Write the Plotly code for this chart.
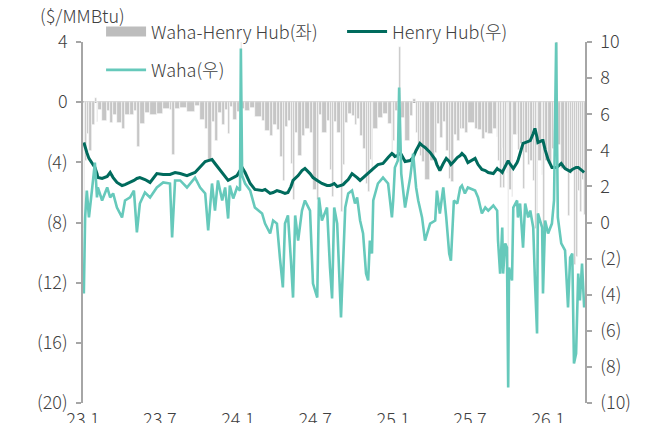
import numpy as np
import pandas as pd
import plotly.graph_objects as go

# 일자별 가격 ($/MMBtu), 차트에서 읽은 값
dates = [
    "2023-01-03", "2023-01-06", "2023-01-10", "2023-01-15", "2023-01-22", "2023-01-29",
    "2023-02-03", "2023-02-05", "2023-02-15", "2023-02-27", "2023-03-06", "2023-03-13",
    "2023-03-22", "2023-04-03", "2023-04-10", "2023-04-22", "2023-05-01", "2023-05-08",
    "2023-05-15", "2023-05-27", "2023-06-08", "2023-06-24", "2023-07-09", "2023-07-25",
    "2023-07-30", "2023-08-06", "2023-08-18", "2023-09-03", "2023-09-22", "2023-10-04",
    "2023-10-16", "2023-10-23", "2023-11-01", "2023-11-08", "2023-11-15", "2023-11-25",
    "2023-12-02", "2023-12-09", "2023-12-13", "2023-12-21", "2023-12-30", "2024-01-06",
    "2024-01-08", "2024-01-11", "2024-01-18", "2024-01-30", "2024-02-10", "2024-02-27",
    "2024-03-05", "2024-03-17", "2024-03-24", "2024-04-02", "2024-04-09", "2024-04-16",
    "2024-04-21", "2024-04-28", "2024-05-05", "2024-05-10", "2024-05-15", "2024-05-22",
    "2024-05-31", "2024-06-07", "2024-06-19", "2024-06-26", "2024-07-06", "2024-07-10",
    "2024-07-17", "2024-07-29", "2024-08-05", "2024-08-10", "2024-08-15", "2024-08-22",
    "2024-08-31", "2024-09-05", "2024-09-10", "2024-09-17", "2024-09-26", "2024-10-03",
    "2024-10-08", "2024-10-15", "2024-10-22", "2024-10-29", "2024-11-03", "2024-11-07",
    "2024-11-12", "2024-11-15", "2024-11-26", "2024-12-08", "2024-12-20", "2024-12-29",
    "2025-01-01", "2025-01-05", "2025-01-12", "2025-01-15", "2025-01-20", "2025-01-29",
    "2025-02-10", "2025-02-17", "2025-02-24", "2025-03-01", "2025-03-05", "2025-03-10",
    "2025-03-17", "2025-03-29", "2025-04-10", "2025-04-14", "2025-04-21", "2025-04-29",
    "2025-05-06", "2025-05-13", "2025-05-17", "2025-05-24", "2025-06-01", "2025-06-08",
    "2025-06-12", "2025-06-19", "2025-06-26", "2025-07-13", "2025-07-20", "2025-07-29",
    "2025-08-06", "2025-08-13", "2025-08-25", "2025-09-03", "2025-09-05", "2025-09-10",
    "2025-09-15", "2025-09-17", "2025-09-22", "2025-09-26", "2025-09-29", "2025-10-01",
    "2025-10-08", "2025-10-11", "2025-10-20", "2025-10-22", "2025-10-27", "2025-11-03",
    "2025-11-08", "2025-11-15", "2025-11-20", "2025-11-27", "2025-12-01", "2025-12-06",
    "2025-12-08", "2025-12-18", "2025-12-20", "2025-12-25", "2026-01-01", "2026-01-10",
    "2026-01-15", "2026-01-20", "2026-01-24", "2026-02-01", "2026-02-10", "2026-02-17",
    "2026-02-22", "2026-02-27", "2026-03-03", "2026-03-08", "2026-03-13", "2026-03-17",
    "2026-03-22", "2026-03-27",
]

henry_hub = [
    4.43, 4.16, 3.88, 3.55, 3.27, 3.05,
    2.71, 2.49, 2.44, 2.55, 2.77, 2.49,
    2.22, 2.05, 2.10, 2.22, 2.33, 2.44,
    2.49, 2.38, 2.22, 2.71, 2.66, 2.66,
    2.71, 2.77, 2.71, 2.60, 2.77, 3.10,
    3.38, 3.43, 3.49, 3.27, 3.05, 2.71,
    2.49, 2.33, 2.38, 2.49, 2.60, 2.88,
    2.99, 3.05, 2.77, 2.16, 1.83, 1.77,
    1.83, 1.61, 1.66, 1.77, 1.72, 1.66,
    1.61, 1.66, 1.99, 2.33, 2.44, 2.60,
    2.88, 2.99, 2.71, 2.49, 2.33, 2.27,
    2.16, 2.05, 2.05, 2.10, 2.16, 1.99,
    2.05, 2.10, 2.22, 2.38, 2.71, 2.60,
    2.49, 2.33, 2.49, 2.60, 2.77, 2.83,
    2.94, 2.99, 3.21, 3.27, 3.60, 3.82,
    3.77, 3.66, 3.71, 3.82, 3.77, 3.38,
    3.43, 3.60, 3.99, 4.21, 4.38, 4.27,
    4.16, 3.88, 3.49, 3.21, 2.88, 3.27,
    3.55, 3.38, 3.21, 3.38, 3.60, 3.71,
    3.82, 3.66, 3.32, 3.55, 3.21, 2.94,
    2.88, 2.77, 2.71, 2.99, 2.94, 2.88,
    2.77, 2.88, 3.10, 3.32, 3.43, 3.32,
    3.10, 2.99, 3.32, 3.43, 3.82, 4.38,
    4.43, 4.49, 4.54, 4.93, 5.21, 4.71,
    4.43, 4.54, 4.54, 4.04, 3.49, 3.05,
    3.05, 3.05, 3.10, 3.27, 2.99, 2.88,
    2.83, 2.94, 2.99, 3.05, 3.05, 2.99,
    2.88, 2.77,
]

waha = [
    -3.93, 0.28, 1.77, 0.28, 1.77, 3.32,
    1.39, 1.94, 1.22, 1.94, 1.39, 1.61,
    0.83, 0.28, 1.22, 1.39, 1.77, -0.55,
    1.05, 1.66, 1.39, 1.94, 2.22, 2.16,
    -0.83, 2.33, 2.33, 1.94, 2.49, 1.94,
    1.61, -0.44, 2.16, 0.66, 2.33, 1.22,
    1.94, 0.22, 2.05, 1.33, 1.94, 1.77,
    9.64, 2.60, 2.16, 1.77, 0.83, 0.50,
    -0.06, -0.61, 0.11, -0.06, -1.94, -3.60,
    -0.06, 0.39, -2.11, -4.16, 0.39, -1.00,
    0.66, 1.22, 0.66, -3.38, -4.16, 1.39,
    0.11, 0.83, -2.49, -4.21, 0.83, -0.06,
    -5.26, -2.11, 0.83, 1.61, 1.77, 1.05,
    1.39, 0.11, -0.61, -2.83, -3.21, -1.00,
    -1.72, 1.22, 2.16, 2.49, 2.16, 0.28,
    1.22, 3.05, 3.43, 7.48, 2.71, 0.83,
    2.49, 3.82, 1.94, 1.22, 0.78, 0.28,
    -1.00, -0.06, 0.11, 1.77, 0.50, 1.94,
    0.28, -1.72, -2.11, 1.22, 1.05, 1.94,
    2.05, 1.61, 1.94, 1.77, 1.39, 0.50,
    0.83, 0.66, 0.94, 0.66, -1.00, -2.83,
    -0.28, -2.83, -1.16, -1.39, -9.14, -2.49,
    -3.21, 0.83, 1.22, 0.28, 1.05, -1.39,
    1.05, 0.28, 0.66, -0.28, -3.20, -6.15,
    0.50, -0.28, -3.93, 0.11, -0.61, -0.06,
    1.22, 9.97, 0.28, -1.16, -1.55, -4.71,
    -1.94, -1.72, -7.81, -7.26, -2.83, -4.32,
    -2.27, -4.71,
]

# Waha-Henry Hub 스프레드
spread = np.round(np.array(waha) - np.array(henry_hub), 2)

x_tickvals = ["2023-01-01", "2023-07-01", "2024-01-01", "2024-07-01",
              "2025-01-01", "2025-07-01", "2026-01-01"]
x_ticktext = ["23.1", "23.7", "24.1", "24.7", "25.1", "25.7", "26.1"]

left_vals = [4, 0, -4, -8, -12, -16, -20]
left_text = ["4", "0", "(4)", "(8)", "(12)", "(16)", "(20)"]
right_vals = [10, 8, 6, 4, 2, 0, -2, -4, -6, -8, -10]
right_text = ["10", "8", "6", "4", "2", "0", "(2)", "(4)", "(6)", "(8)", "(10)"]

FONT = "Noto Sans CJK KR"
AXIS_GRAY = "#A6A6A6"
BAR_GRAY = "#C6C6C6"

# 막대 폭: 다음 관측일까지 (막대는 관측일에서 시작)
dt = pd.to_datetime(dates)
gaps = np.diff(dt.values).astype("timedelta64[ms]").astype(float)
widths = np.append(gaps, gaps[-1])

fig = go.Figure()

fig.add_trace(go.Bar(
    x=dates, y=spread, name="Waha-Henry Hub(좌)", showlegend=False,
    marker=dict(color=BAR_GRAY, line=dict(color="white", width=0.6)),
    width=widths, offset=0,
))
# 범례용 넓은 회색 견본
fig.add_trace(go.Scatter(
    x=[None], y=[None], name="Waha-Henry Hub(좌)", mode="lines",
    line=dict(color="#BDBDBD", width=10), legend="legend",
))
fig.add_trace(go.Scatter(
    x=dates, y=henry_hub, name="Henry Hub(우)", mode="lines",
    line=dict(color="#006B5D", width=3), yaxis="y2", legend="legend",
))
fig.add_trace(go.Scatter(
    x=dates, y=waha, name="Waha(우)", mode="lines",
    line=dict(color="#66C9BB", width=2.6), yaxis="y2", legend="legend2",
))

# 페이지 기본 여백(8px)을 감안한 크기
fig.update_layout(
    width=638, height=415,
    margin=dict(l=75, r=61, t=34, b=20, autoexpand=False),
    paper_bgcolor="white", plot_bgcolor="white",
    font=dict(family=FONT, size=18, color="#404040", weight=300),
    bargap=0,
    xaxis=dict(
        type="date", range=["2023-01-01", "2026-03-29"],
        tickvals=x_tickvals, ticktext=x_ticktext,
        showgrid=False, zeroline=False, showline=False, ticks="",
        ticklabelstandoff=4, automargin=False,
    ),
    yaxis=dict(
        range=[-20, 4], tickvals=left_vals, ticktext=left_text,
        showgrid=False, showline=True, linecolor=AXIS_GRAY, linewidth=1.5,
        ticks="outside", ticklen=5, tickcolor=AXIS_GRAY, tickwidth=1.5,
        zeroline=True, zerolinecolor=AXIS_GRAY, zerolinewidth=2,
        ticklabelstandoff=5, automargin=False,
    ),
    yaxis2=dict(
        range=[-10, 10], tickvals=right_vals, ticktext=right_text,
        overlaying="y", side="right",
        showgrid=False, showline=True, linecolor=AXIS_GRAY, linewidth=1.5,
        ticks="outside", ticklen=5, tickcolor=AXIS_GRAY, tickwidth=1.5,
        zeroline=False, ticklabelstandoff=5, automargin=False,
    ),
    legend=dict(
        orientation="h", x=0.036, xanchor="left", y=1.028, yanchor="middle",
        bgcolor="rgba(0,0,0,0)", font=dict(size=18), itemwidth=40,
        entrywidth=186,
    ),
    legend2=dict(
        orientation="h", x=0.036, xanchor="left", y=0.922, yanchor="middle",
        bgcolor="rgba(0,0,0,0)", font=dict(size=18), itemwidth=40,
    ),
    annotations=[dict(
        text="($/MMBtu)", xref="paper", yref="paper",
        x=-0.09, y=1.076, xanchor="left", yanchor="middle",
        showarrow=False, font=dict(size=18),
    )],
)

fig.write_html("out.html")
